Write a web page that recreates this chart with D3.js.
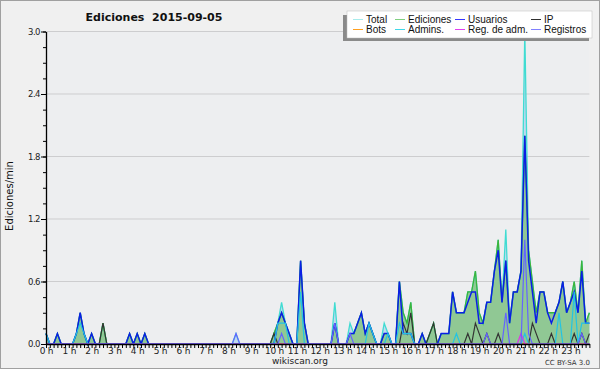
<!DOCTYPE html>
<html>
<head>
<meta charset="utf-8">
<script src="https://cdn.jsdelivr.net/npm/d3@7"></script>
<style>
  body { margin: 0; background: #fff; }
  text { font-family: "DejaVu Sans", sans-serif; }
</style>
</head>
<body>
<div id="chart"></div>
<script>
// edits per minute, one value every 10 minutes (144 per day)
var total = [
  0.1,0,0,0.1,0,0,0,0,0.1,0.3,0.1,0,
  0.1,0,0,0.2,0,0,0,0,0,0,0.1,0,
  0.1,0,0.1,0,0,0,0,0,0,0,0,0,
  0,0,0,0,0,0,0,0,0,0,0,0,
  0,0,0.1,0,0,0,0,0,0,0,0,0,
  0.1,0.2,0.4,0.2,0.1,0,0,0.8,0.2,0,0,0,
  0,0,0,0,0.4,0,0,0,0.2,0.1,0.2,0.3,
  0.1,0.2,0.1,0,0,0.2,0.1,0,0,0.6,0.3,0.2,
  0.4,0,0,0.1,0,0.1,0.2,0,0.1,0.1,0.1,0.5,
  0.3,0.3,0.3,0.5,0.5,0.7,0.3,0.2,0.4,0.4,0.7,1.0,
  0.4,1.1,0.2,0.5,0.5,0.7,3.0,0.9,0.6,0.3,0.5,0.5,
  0.3,0.3,0.3,0.4,0.6,0.3,0.4,0.6,0.3,0.8,0.2,0.3
];
var ediciones = [
  0.1,0,0,0.1,0,0,0,0,0.1,0.3,0.1,0,
  0.1,0,0,0.2,0,0,0,0,0,0,0.1,0,
  0.1,0,0.1,0,0,0,0,0,0,0,0,0,
  0,0,0,0,0,0,0,0,0,0,0,0,
  0,0,0,0,0,0,0,0,0,0,0,0,
  0.1,0.2,0.3,0.2,0.1,0,0,0.8,0.2,0,0,0,
  0,0,0,0,0.2,0,0,0,0.1,0.1,0.2,0.3,
  0.1,0.2,0.1,0,0,0.1,0.1,0,0,0.6,0.3,0.2,
  0.4,0,0,0.1,0,0.1,0.2,0,0.1,0.1,0.1,0.5,
  0.3,0.3,0.3,0.5,0.5,0.7,0.3,0.2,0.4,0.4,0.7,1.0,
  0.4,0.8,0.2,0.5,0.5,0.7,2.0,0.9,0.6,0.3,0.5,0.5,
  0.3,0.3,0.3,0.4,0.6,0.3,0.4,0.6,0.3,0.8,0.2,0.3
];
var usuarios = [
  0.1,0,0,0.1,0,0,0,0,0.1,0.3,0.1,0,
  0.1,0,0,0,0,0,0,0,0,0,0.1,0,
  0.1,0,0.1,0,0,0,0,0,0,0,0,0,
  0,0,0,0,0,0,0,0,0,0,0,0,
  0,0,0,0,0,0,0,0,0,0,0,0,
  0,0.2,0.3,0.2,0.1,0,0,0.8,0.2,0,0,0,
  0,0,0,0,0.2,0,0,0,0.1,0.1,0.2,0.3,
  0.1,0.2,0.1,0,0,0.1,0.1,0,0,0.6,0.1,0.1,
  0.1,0,0,0.1,0,0,0,0,0.1,0.1,0.1,0.5,
  0.3,0.3,0.3,0.4,0.5,0.5,0.2,0.2,0.4,0.4,0.7,0.9,
  0.4,0.8,0.2,0.5,0.5,0.7,2.0,0.8,0.5,0.2,0.5,0.5,
  0.3,0.2,0.3,0.4,0.6,0.3,0.4,0.5,0.3,0.7,0.2,0.2
];
var ip = [
  0,0,0,0,0,0,0,0,0,0,0,0,
  0,0,0,0.2,0,0,0,0,0,0,0,0,
  0,0,0,0,0,0,0,0,0,0,0,0,
  0,0,0,0,0,0,0,0,0,0,0,0,
  0,0,0,0,0,0,0,0,0,0,0,0,
  0.1,0,0,0,0,0,0,0,0,0,0,0,
  0,0,0,0,0,0,0,0,0,0,0,0,
  0,0,0,0,0,0,0,0,0,0,0.2,0.1,
  0.3,0,0,0,0,0.1,0.2,0,0,0,0,0,
  0,0,0,0.1,0,0.2,0.1,0,0.1,0,0,0.1,
  0,0,0,0,0,0,0,0,0.2,0.1,0,0,
  0,0.1,0,0,0,0,0,0.1,0,0.1,0,0.1
];
var bots = d3.range(144).map(function () { return 0; });
var admins = [
  0.1,0,0,0,0,0,0,0,0.1,0.2,0.1,0,
  0,0,0,0,0,0,0,0,0,0,0,0,
  0,0,0,0,0,0,0,0,0,0,0,0,
  0,0,0,0,0,0,0,0,0,0,0,0,
  0,0,0,0,0,0,0,0,0,0,0,0,
  0,0.2,0.2,0.2,0,0,0,0.5,0,0,0,0,
  0,0,0,0,0,0,0,0,0,0,0,0,
  0,0.2,0.1,0,0,0,0.1,0,0,0.2,0.1,0.1,
  0.1,0,0,0,0,0,0,0,0,0,0,0,
  0.1,0,0,0,0,0,0,0,0,0,0,0,
  0,0,0,0,0,0,0.1,0,0,0,0,0,
  0,0,0,0.3,0,0,0,0.5,0,0.2,0.2,0.2
];
var regAdm = [
  0,0,0,0,0,0,0,0,0,0,0,0,
  0,0,0,0,0,0,0,0,0,0,0,0,
  0,0,0,0,0,0,0,0,0,0,0,0,
  0,0,0,0,0,0,0,0,0,0,0,0,
  0,0,0,0,0,0,0,0,0,0,0,0,
  0,0,0,0,0,0,0,0,0,0,0,0,
  0,0,0,0,0,0,0,0,0,0,0,0,
  0,0,0,0,0,0,0,0,0,0,0,0,
  0,0,0,0,0,0,0,0,0,0,0,0,
  0,0,0,0,0,0,0,0,0,0,0,0,
  0,0,0,0,0,0.1,0,0,0,0,0,0,
  0,0,0,0,0,0,0,0,0,0,0,0
];
var registros = [
  0,0,0,0,0,0,0,0,0,0,0,0,
  0,0,0,0,0,0,0,0,0,0,0,0,
  0,0,0,0,0,0,0,0,0,0,0,0,
  0,0,0,0,0,0,0,0,0,0,0,0,
  0,0,0.1,0,0,0,0,0,0,0,0,0,
  0,0,0.1,0,0,0,0,0,0,0,0,0,
  0,0,0,0,0.2,0,0,0,0.1,0,0,0,
  0,0,0,0,0,0,0,0,0,0,0,0,
  0,0,0,0,0,0,0,0,0,0,0,0,
  0,0,0,0,0,0,0,0,0.1,0,0,0,
  0,0.3,0,0,0,0,1.0,0.1,0,0,0,0,
  0,0,0,0,0,0,0,0,0,0.1,0,0
];
var hourLabels = d3.range(24).map(function (h) { return h + " h"; });
var yMajor = [0, 0.6, 1.2, 1.8, 2.4, 3.0];
var legendNames = ["Total", "Ediciones", "Usuarios", "IP", "Bots", "Admins.", "Reg. de adm.", "Registros"];

var width = 600, height = 370;
var svg = d3.select("#chart").append("svg")
  .attr("width", width)
  .attr("height", height);

svg.append("rect")
  .attr("x", 0.5).attr("y", 0.5)
  .attr("width", 599).attr("height", 368)
  .attr("fill", "#f0f0f0")
  .attr("stroke", "#a0a0a0");

var x = d3.scaleLinear().domain([0, 143]).range([46, 589.4]);
var y = d3.scaleLinear().domain([0, 3]).range([344, 31.5]);

svg.append("rect")
  .attr("x", x(0)).attr("y", y(3))
  .attr("width", x(143) - x(0)).attr("height", y(0) - y(3))
  .attr("fill", "#edeef0");

// grid
svg.append("g").selectAll("line")
  .data(yMajor.slice(1))
  .enter().append("line")
  .attr("x1", x(0)).attr("x2", x(143))
  .attr("y1", function (d) { return y(d); })
  .attr("y2", function (d) { return y(d); })
  .attr("stroke", "#cdcdcf")
  .attr("stroke-width", 1);

var area = function (vals) {
  return d3.area()
    .x(function (d, i) { return x(i); })
    .y0(y(0))
    .y1(function (d) { return y(d); })(vals);
};
var line = function (vals) {
  return d3.line()
    .x(function (d, i) { return x(i); })
    .y(function (d) { return y(d); })(vals);
};

svg.append("path").attr("d", area(total))
  .attr("fill", "#b4d2f0").attr("opacity", 0.8);
svg.append("path").attr("d", area(ediciones))
  .attr("fill", "#90c894");

var series = [
  { vals: total, color: "#40dcd2", w: 1.3 },
  { vals: ediciones, color: "#3cb43c", w: 1.3 },
  { vals: ip, color: "#333333", w: 1.2 },
  { vals: bots, color: "#ffa020", w: 1.2 },
  { vals: usuarios, color: "#0a1ee6", w: 1.5 },
  { vals: admins, color: "#22c4e4", w: 1.2 },
  { vals: regAdm, color: "#e030e8", w: 1.2 },
  { vals: registros, color: "#6464ff", w: 1.2 }
];
svg.append("g").selectAll("path")
  .data(series)
  .enter().append("path")
  .attr("d", function (s) { return line(s.vals); })
  .attr("fill", "none")
  .attr("stroke", function (s) { return s.color; })
  .attr("stroke-width", function (s) { return s.w; })
  .attr("stroke-linejoin", "miter");

// axes
var yAxis = svg.append("g")
  .attr("transform", "translate(" + x(0) + ",0)")
  .call(d3.axisLeft(y).tickValues(yMajor).tickFormat(d3.format(".1f")).tickSize(5).tickSizeOuter(0));
svg.append("g")
  .attr("transform", "translate(" + x(0) + ",0)")
  .call(d3.axisLeft(y).tickValues(d3.range(0, 3.01, 0.15)).tickFormat("").tickSize(3).tickSizeOuter(0))
  .select(".domain").remove();
var xAxis = svg.append("g")
  .attr("transform", "translate(0," + y(0) + ")")
  .call(d3.axisBottom(x).tickValues(d3.range(0, 144))
    .tickFormat(function (i) { return i % 6 === 0 ? hourLabels[i / 6] : ""; })
    .tickSize(4).tickSizeOuter(0));

[yAxis, xAxis].forEach(function (a) {
  a.select(".domain").attr("stroke", "#000").attr("stroke-width", 1.3);
  a.selectAll(".tick line").attr("stroke", "#000");
  a.selectAll("text").attr("font-size", 9).attr("fill", "#222");
});
yAxis.selectAll("text").attr("x", -6).attr("letter-spacing", -0.5).attr("font-size", 8.5);
xAxis.selectAll("text").attr("y", 4).attr("letter-spacing", -0.2);

// titles
svg.append("text")
  .attr("x", 154).attr("y", 21)
  .attr("text-anchor", "middle")
  .attr("font-size", 11).attr("font-weight", "bold")
  .attr("fill", "#111")
  .style("white-space", "pre")
  .text("Ediciones  2015-09-05");

svg.append("text")
  .attr("transform", "translate(13,196) rotate(-90)")
  .attr("text-anchor", "middle")
  .attr("font-size", 10).attr("fill", "#111")
  .text("Ediciones/min");

svg.append("text")
  .attr("x", 300).attr("y", 364)
  .attr("text-anchor", "middle")
  .attr("font-size", 9).attr("fill", "#222")
  .text("wikiscan.org");

svg.append("text")
  .attr("x", 590).attr("y", 365)
  .attr("text-anchor", "end")
  .attr("font-size", 7).attr("fill", "#333")
  .text("CC BY-SA 3.0");

// legend
var legend = svg.append("g");
legend.append("rect")
  .attr("x", 343).attr("y", 15).attr("width", 246).attr("height", 26)
  .attr("fill", "#8a8a8a");
legend.append("rect")
  .attr("x", 347).attr("y", 11).attr("width", 245).attr("height", 27)
  .attr("fill", "#fff").attr("stroke", "#bbb").attr("stroke-width", 0.5);

var legColors = ["#a8ecec", "#80d080", "#3838ff", "#303030", "#ffa020", "#40d8e8", "#e040f0", "#8080ff"];
var colX = [353, 395, 455, 531];
var item = legend.selectAll("g.item")
  .data(legendNames)
  .enter().append("g")
  .attr("class", "item")
  .attr("transform", function (d, i) {
    return "translate(" + colX[i % 4] + "," + (i < 4 ? 19.5 : 29.5) + ")";
  });
item.append("line")
  .attr("x1", 0).attr("x2", 10)
  .attr("stroke", function (d, i) { return legColors[i]; })
  .attr("stroke-width", 1);
item.append("text")
  .attr("x", 13).attr("y", 3.5)
  .style("font-family", "'Liberation Sans', Arial, sans-serif")
  .attr("font-size", 10).attr("fill", "#111")
  .text(function (d) { return d; });
</script>
</body>
</html>
